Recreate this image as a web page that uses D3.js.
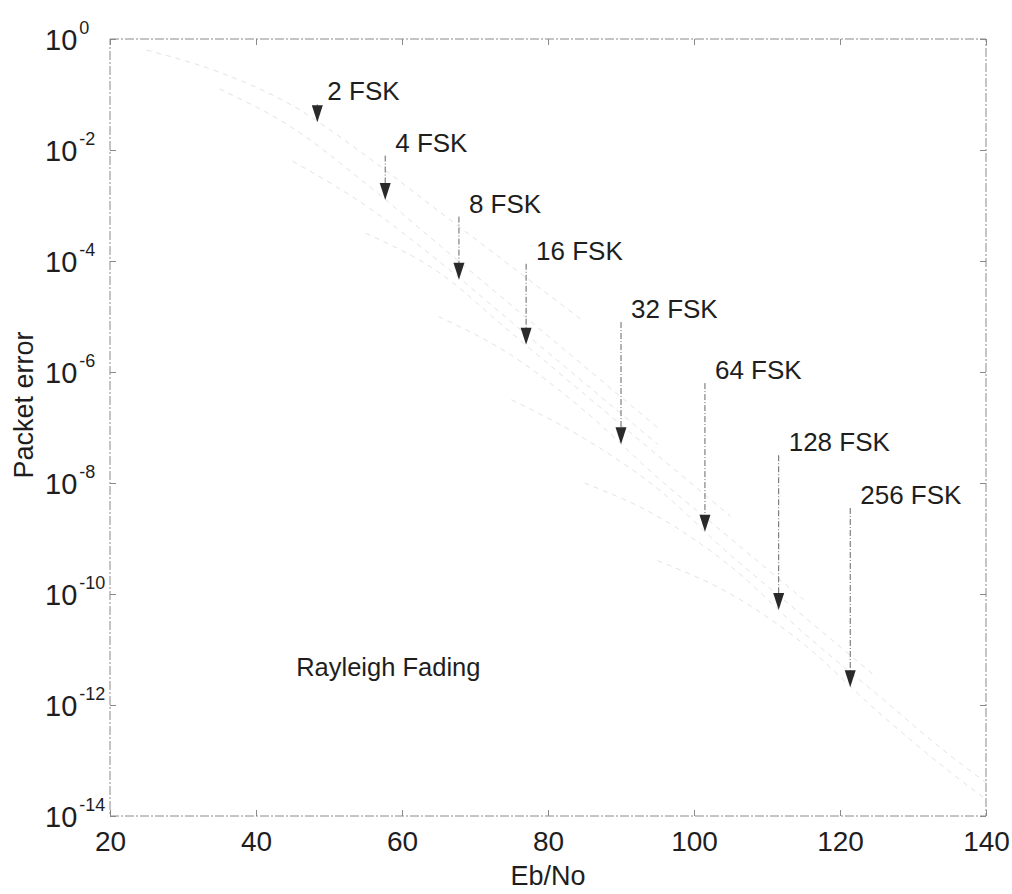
<!DOCTYPE html>
<html>
<head>
<meta charset="utf-8">
<script src="https://cdn.jsdelivr.net/npm/d3@7"></script>
<style>
  html, body { margin: 0; padding: 0; background: #fff; }
  svg text { font-family: "Liberation Sans", Arial, sans-serif; fill: #1e1e1e; }
</style>
</head>
<body>
<svg id="chart" width="1012" height="894"></svg>
<script>
// Axis ticks
const ebnoTicks = [20, 40, 60, 80, 100, 120, 140];
const errorExponents = [0, -2, -4, -6, -8, -10, -12, -14];

// Modulation order for each curve
const modulations = ["2 FSK", "4 FSK", "8 FSK", "16 FSK", "32 FSK", "64 FSK", "128 FSK", "256 FSK"];

// Packet error curves: Eb/No points and log10(packet error) at those points
const curveEbNo = [
  [25, 35, 45, 55, 65, 75, 85],
  [35, 45, 55, 65, 75, 85, 95],
  [45, 55, 65, 75, 85, 95],
  [55, 65, 75, 85, 95, 105],
  [65, 75, 85, 95, 105, 115],
  [75, 85, 95, 105, 115, 125],
  [85, 95, 105, 115, 125, 135, 140],
  [95, 105, 115, 125, 135, 140]
];
const curveLogErr = [
  [-0.2, -0.6, -1.2, -2.1, -3.1, -4.1, -5.1],
  [-0.9, -1.6, -2.6, -3.7, -4.8, -5.9, -7.0],
  [-2.2, -3.0, -4.0, -5.1, -6.2, -7.3],
  [-3.5, -4.2, -5.3, -6.4, -7.5, -8.6],
  [-5.0, -5.7, -6.7, -7.9, -9.0, -10.1],
  [-6.5, -7.2, -8.1, -9.3, -10.4, -11.5],
  [-8.0, -8.6, -9.5, -10.7, -11.8, -12.9, -13.4],
  [-9.4, -10.0, -10.9, -12.1, -13.2, -13.7]
];

// Annotation arrows: Eb/No position, log10 error at the tail and at the tip
const arrowEbNo = [48.4, 57.7, 67.8, 77.0, 90.0, 101.5, 111.6, 121.4];
const arrowTailLog = [-1.18, -2.1, -3.2, -4.05, -5.1, -6.2, -7.5, -8.45];
const arrowTipLog = [-1.5, -2.9, -4.34, -5.51, -7.3, -8.88, -10.29, -11.68];

const note = "Rayleigh Fading";
const noteAt = [45.5, -11.48];

const svg = d3.select("#chart");
const plotL = 110, plotR = 986, plotT = 39, plotB = 816;

const x = d3.scaleLinear().domain([20, 140]).range([plotL, plotR]);
const y = d3.scaleLog().domain([1e-14, 1]).range([plotB, plotT]);
const yl = v => y(Math.pow(10, v));

// Faint error curves
const line = d3.line().x(d => x(d[0])).y(d => yl(d[1])).curve(d3.curveMonotoneX);
svg.append("g").selectAll("path")
  .data(curveEbNo.map((xs, i) => xs.map((v, j) => [v, curveLogErr[i][j]])))
  .join("path")
  .attr("d", line)
  .attr("fill", "none")
  .attr("stroke", "#e3e3e3")
  .attr("stroke-width", 1)
  .attr("stroke-dasharray", "5,5");

// Frame
const frameStyle = s => s.attr("stroke", "#8a8a8a").attr("stroke-width", 1)
  .attr("stroke-dasharray", "9,2,2,2").attr("fill", "none");
svg.append("rect").attr("x", plotL).attr("y", plotT)
  .attr("width", plotR - plotL).attr("height", plotB - plotT).call(frameStyle);

// Bottom and top axes
const xAxis = svg.append("g").attr("transform", `translate(0,${plotB})`)
  .call(d3.axisBottom(x).tickValues(ebnoTicks).tickSize(-6).tickPadding(10).tickFormat(d3.format("d")));
const xAxisTop = svg.append("g").attr("transform", `translate(0,${plotT})`)
  .call(d3.axisTop(x).tickValues(ebnoTicks).tickSize(-6).tickFormat(""));
// Left and right axes
const yTicks = errorExponents.map(e => Math.pow(10, e));
const yAxis = svg.append("g").attr("transform", `translate(${plotL},0)`)
  .call(d3.axisLeft(y).tickValues(yTicks).tickSize(-6).tickFormat(""));
const yAxisRight = svg.append("g").attr("transform", `translate(${plotR},0)`)
  .call(d3.axisRight(y).tickValues(yTicks).tickSize(-6).tickFormat(""));

[xAxis, xAxisTop, yAxis, yAxisRight].forEach(g => {
  g.select(".domain").remove();
  g.selectAll(".tick line").attr("stroke", "#8a8a8a");
});
xAxis.selectAll(".tick text")
  .attr("font-size", 28)
  .attr("font-family", "Liberation Sans, Arial, sans-serif")
  .attr("fill", "#1e1e1e")
  .attr("dy", "0.9em");

// Y tick labels as 10 with a superscript exponent
const yLab = svg.append("g").selectAll("text").data(errorExponents).join("text")
  .attr("x", 45)
  .attr("y", d => yl(d) + 11)
  .attr("font-size", 29);
yLab.append("tspan").text("10");
yLab.append("tspan").attr("dy", -16).attr("dx", 2).attr("font-size", 18).text(d => String(d));

// Axis titles
svg.append("text").attr("x", 548).attr("y", 885)
  .attr("text-anchor", "middle").attr("font-size", 27).text("Eb/No");
svg.append("text").attr("transform", "translate(33,405) rotate(-90)")
  .attr("text-anchor", "middle").attr("font-size", 27).text("Packet error");

// Annotation arrows with labels
const arrows = svg.append("g").selectAll("g").data(modulations).join("g");
arrows.append("line")
  .attr("x1", (d, i) => x(arrowEbNo[i])).attr("x2", (d, i) => x(arrowEbNo[i]))
  .attr("y1", (d, i) => yl(arrowTailLog[i]))
  .attr("y2", (d, i) => yl(arrowTipLog[i]) - 12)
  .attr("stroke", "#666").attr("stroke-width", 1)
  .attr("stroke-dasharray", "6,2,1,2");
arrows.append("path")
  .attr("d", (d, i) => {
    const ax = x(arrowEbNo[i]), ay = yl(arrowTipLog[i]);
    return `M${ax - 5.5},${ay - 17}L${ax + 5.5},${ay - 17}L${ax},${ay}Z`;
  })
  .attr("fill", "#2a2a2a");
arrows.append("text")
  .attr("x", (d, i) => x(arrowEbNo[i]) + 10)
  .attr("y", (d, i) => yl(arrowTailLog[i]) - 4)
  .attr("font-size", 26)
  .text(d => d);

svg.append("text").attr("x", x(noteAt[0])).attr("y", yl(noteAt[1]))
  .attr("font-size", 25.5).text(note);
</script>
</body>
</html>
